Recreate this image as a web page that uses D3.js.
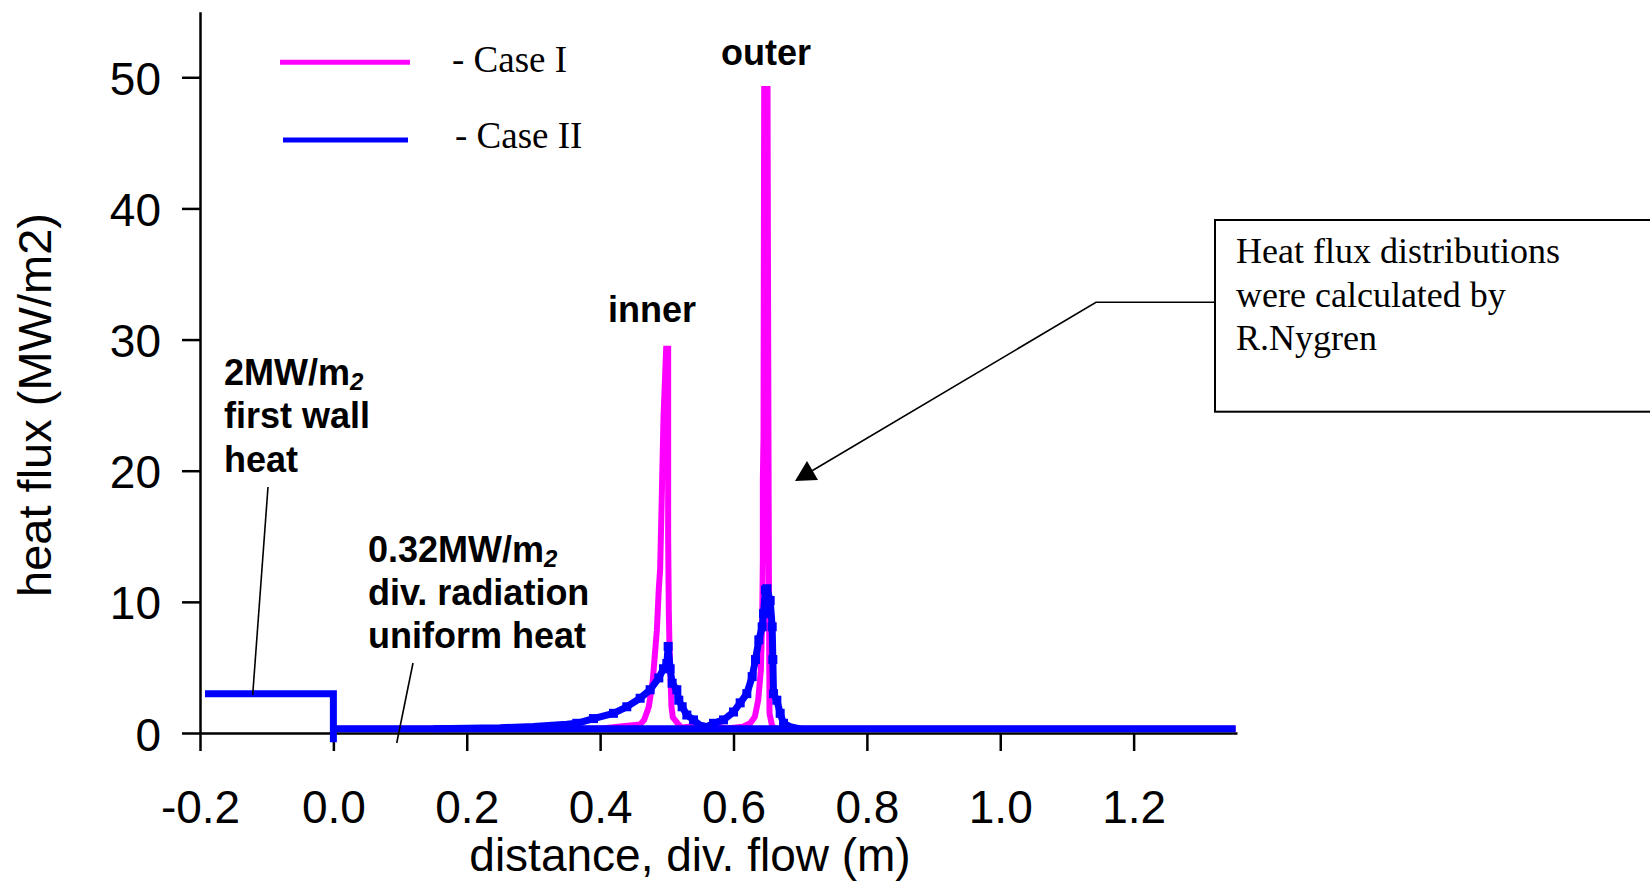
<!DOCTYPE html>
<html><head><meta charset="utf-8">
<script src="https://cdn.jsdelivr.net/npm/d3@7"></script>
<style>html,body{margin:0;padding:0;background:#fff;} svg{display:block;background:#fff;}</style>
</head><body><svg id="c" width="1650" height="882"></svg>
<script>
// ---- data ----
const xTicks = [-0.2, 0.0, 0.2, 0.4, 0.6, 0.8, 1.0, 1.2];
const yTicks = [0, 10, 20, 30, 40, 50];
const seriesNames = ["- Case I", "- Case II"];

// Case I (magenta)
const caseI_x = [0.00, 0.40, 0.430, 0.460, 0.466, 0.473, 0.479, 0.481, 0.485, 0.488, 0.490, 0.492, 0.495, 0.499, 0.502, 0.502, 0.503, 0.504, 0.507, 0.509, 0.516, 0.522, 0.535, 0.555, 0.575, 0.590, 0.614, 0.625, 0.632, 0.637, 0.641, 0.643, 0.644, 0.644, 0.645, 0.646, 0.651, 0.652, 0.653, 0.654, 0.658, 0.665, 1.353];
const caseI_y = [0.32, 0.32, 0.50, 0.65, 1.00, 2.00, 4.00, 5.30, 7.80, 11.0, 12.5, 17.0, 24.0, 29.3, 29.3, 15.0, 9.30, 6.60, 2.00, 1.20, 0.75, 0.40, 0.50, 0.55, 0.50, 0.35, 0.48, 0.74, 1.24, 2.50, 4.80, 8.60, 13.2, 19.3, 22.6, 49.1, 49.1, 30.0, 13.0, 1.50, 0.50, 0.32, 0.32];

// Case II (blue): first-wall step + uniform divertor radiation level
const caseIIbase_x = [-0.1925, 0.0, 0.0, 0.0, 1.353];
const caseIIbase_y = [3.0, 3.0, -0.7, 0.32, 0.32];

// Case II (blue): peaked profile
const caseII_x = [0.15, 0.25, 0.30, 0.35, 0.365, 0.39, 0.42, 0.44, 0.46, 0.475, 0.488, 0.495, 0.500, 0.502, 0.505, 0.508, 0.515, 0.518, 0.523, 0.530, 0.540, 0.550, 0.560, 0.570, 0.585, 0.600, 0.610, 0.620, 0.628, 0.633, 0.638, 0.643, 0.645, 0.648, 0.650, 0.655, 0.658, 0.659, 0.660, 0.665, 0.670, 0.675, 0.685, 0.700];
const caseII_y = [0.32, 0.40, 0.50, 0.66, 0.74, 1.10, 1.50, 2.00, 2.65, 3.30, 4.20, 4.90, 5.30, 6.60, 4.90, 3.80, 3.30, 2.50, 2.00, 1.37, 1.00, 0.60, 0.48, 0.74, 1.00, 1.60, 2.30, 3.00, 4.30, 5.60, 7.10, 8.10, 9.10, 10.9, 11.0, 10.1, 8.10, 5.60, 3.00, 2.50, 1.50, 0.74, 0.48, 0.32];

// ---- chart ----
const MAG = "#ff00ff", BLU = "#0000ff";
const SANS = "'Liberation Sans', Arial, sans-serif";
const SERIF = "'Liberation Serif', 'Times New Roman', serif";
const svg = d3.select("#c");
const x = d3.scaleLinear().domain([-0.2, 1.355]).range([200, 1237]);
const y = d3.scaleLinear().domain([0, 55]).range([733, 11.7]);

// axes
const gx = svg.append("g").attr("transform", "translate(0,733)")
  .call(d3.axisBottom(x).tickValues(xTicks).tickFormat(d => d.toFixed(1)).tickSize(18).tickSizeOuter(0));
gx.select(".domain").attr("stroke", "#000").attr("stroke-width", 2.5);
gx.selectAll(".tick line").attr("stroke", "#000").attr("stroke-width", 2.5);
gx.selectAll(".tick text").attr("y", 89.7).attr("dy", null)
  .attr("font-family", SANS).attr("font-size", 46).attr("fill", "#000");

const gy = svg.append("g").attr("transform", "translate(200,0)")
  .call(d3.axisLeft(y).tickValues(yTicks).tickFormat(d3.format("d")).tickSize(18).tickSizeOuter(0).tickPadding(21));
gy.select(".domain").attr("stroke", "#000").attr("stroke-width", 2.5);
gy.selectAll(".tick line").attr("stroke", "#000").attr("stroke-width", 2.5);
gy.selectAll(".tick text").attr("dy", "0.37em")
  .attr("font-family", SANS).attr("font-size", 46).attr("fill", "#000");

// axis titles
svg.append("text").attr("transform", "translate(51,405) rotate(-90)")
  .attr("text-anchor", "middle").attr("font-family", SANS).attr("font-size", 47)
  .text("heat flux (MW/m2)");
svg.append("text").attr("x", 690).attr("y", 871)
  .attr("text-anchor", "middle").attr("font-family", SANS).attr("font-size", 46)
  .text("distance, div. flow (m)");

// lines
const line = d3.line().x(d => x(d[0])).y(d => y(d[1]));
const zipXY = (xs, ys) => xs.map((v, i) => [v, ys[i]]);

svg.append("path").datum(zipXY(caseI_x, caseI_y)).attr("d", line)
  .attr("fill", "none").attr("stroke", MAG).attr("stroke-width", 6).attr("stroke-linejoin", "miter");
svg.append("path").datum(zipXY(caseIIbase_x, caseIIbase_y)).attr("d", line)
  .attr("fill", "none").attr("stroke", BLU).attr("stroke-width", 7).attr("stroke-linejoin", "miter");
const prof = zipXY(caseII_x, caseII_y);
svg.append("path").datum(prof).attr("d", line)
  .attr("fill", "none").attr("stroke", BLU).attr("stroke-width", 7).attr("stroke-linejoin", "round");
svg.append("g").selectAll("rect").data(prof.filter(d => d[1] >= 0.7)).join("rect")
  .attr("x", d => x(d[0]) - 4.5).attr("y", d => y(d[1]) - 4.5).attr("width", 9).attr("height", 9)
  .attr("fill", BLU);

// legend
const legY = [62.3, 140];
const legC = [MAG, BLU];
const legX0 = [280, 283], legX1 = [410, 408], legTX = [452, 455], legTY = [72, 148];
seriesNames.forEach((n, i) => {
  svg.append("line").attr("x1", legX0[i]).attr("x2", legX1[i]).attr("y1", legY[i]).attr("y2", legY[i])
    .attr("stroke", legC[i]).attr("stroke-width", 5);
  svg.append("text").attr("x", legTX[i]).attr("y", legTY[i]).attr("font-family", SERIF)
    .attr("font-size", 37).attr("fill", "#000").text(n);
});

// peak labels
const bold = (tx, ty, t) => svg.append("text").attr("x", tx).attr("y", ty)
  .attr("font-family", SANS).attr("font-weight", "bold").attr("font-size", 36).attr("fill", "#000").text(t);
bold(721, 65, "outer");
bold(608, 322, "inner");

// first wall / radiation annotations
function subLabel(tx, ty, main) {
  const t = svg.append("text").attr("x", tx).attr("y", ty).attr("font-family", SANS)
    .attr("font-weight", "bold").attr("font-size", 36).attr("fill", "#000");
  t.append("tspan").text(main);
  t.append("tspan").attr("font-size", 24).attr("font-style", "italic").attr("dy", 5).text("2");
}
subLabel(224, 385, "2MW/m");
bold(224, 428.3, "first wall");
bold(224, 471.7, "heat");
subLabel(368, 561.7, "0.32MW/m");
bold(368, 605, "div. radiation");
bold(368, 648.3, "uniform heat");

// leader lines
svg.append("line").attr("x1", 268).attr("y1", 487).attr("x2", x(-0.121)).attr("y2", y(2.9))
  .attr("stroke", "#000").attr("stroke-width", 1.6);
svg.append("line").attr("x1", 413).attr("y1", 663).attr("x2", x(0.095)).attr("y2", y(-0.76))
  .attr("stroke", "#000").attr("stroke-width", 1.6);

// callout box
svg.append("rect").attr("x", 1215).attr("y", 220).attr("width", 470).attr("height", 191.7)
  .attr("fill", "none").attr("stroke", "#000").attr("stroke-width", 2);
const boxLines = ["Heat flux distributions", "were calculated by", "R.Nygren"];
boxLines.forEach((s, i) => svg.append("text").attr("x", 1236).attr("y", 263.3 + i * 43.4)
  .attr("font-family", SERIF).attr("font-size", 36).attr("fill", "#000").text(s));
svg.append("polyline").attr("points", "1215,302.3 1096,302.3 810,472")
  .attr("fill", "none").attr("stroke", "#000").attr("stroke-width", 1.6);
svg.append("polygon").attr("points", "807,461 795,481 818,480").attr("fill", "#000");
</script>
</body></html>
